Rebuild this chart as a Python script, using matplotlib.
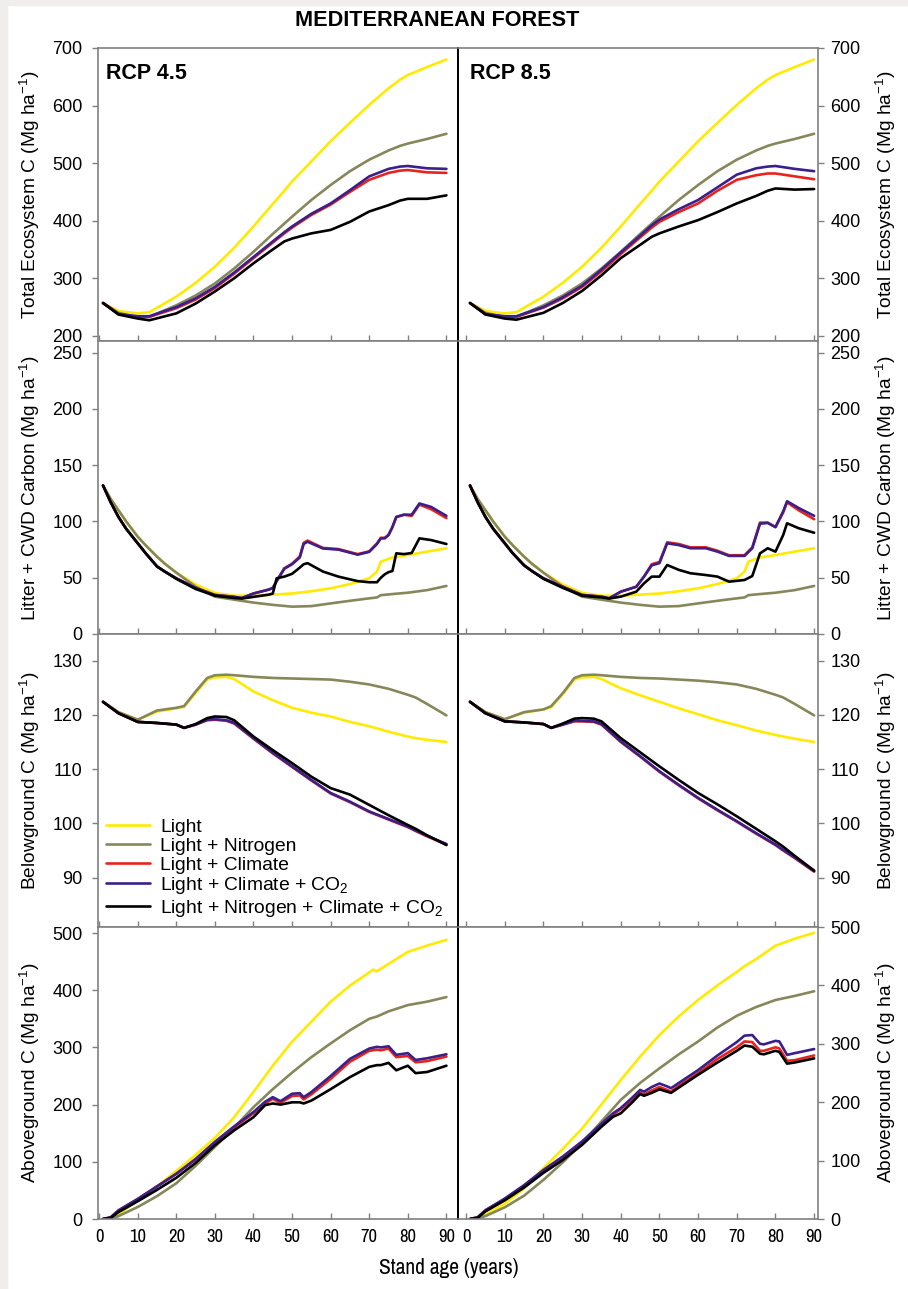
"""Mediterranean forest carbon pools under RCP 4.5 and RCP 8.5 (four stacked panels per scenario)."""

import matplotlib

matplotlib.use("Agg")
import matplotlib.pyplot as plt
from matplotlib import font_manager
from matplotlib.patches import Rectangle
from matplotlib.textpath import TextToPath

# Series order: Light, Light+N, Light+Climate, Light+Climate+CO2, all four.
LABELS = [
    "Light",
    "Light + Nitrogen",
    "Light + Climate",
    "Light + Climate + CO$_2$",
    "Light + Nitrogen + Climate + CO$_2$",
]
COLORS = ["#ffeb00", "#87875c", "#e8231d", "#3b1f8a", "#000000"]

# --- Total ecosystem C -------------------------------------------------------
AGE_TOTAL = [1, 5, 10, 13, 20, 25, 30, 35, 40, 45, 48, 50, 55, 60, 65, 70, 75, 78, 80, 85, 90]
TOTAL45_LIGHT = [257, 243, 239, 241, 268, 292, 320, 353, 390, 429, 452, 468, 503, 538, 570, 601, 630, 645, 653, 667, 680]
TOTAL45_NITRO = [257, 240, 232, 233, 253, 270, 291, 317, 346, 377, 395, 407, 436, 462, 486, 506, 522, 530, 534, 542, 551]
TOTAL45_CLIM = [257, 238, 233, 233, 248, 263, 283, 308, 335, 362, 378, 388, 410, 428, 450, 471, 483, 487, 488, 484, 483]
TOTAL45_CO2 = [257, 238, 234, 234, 250, 265, 285, 310, 337, 364, 380, 390, 412, 430, 453, 477, 490, 494, 495, 491, 490]
TOTAL45_ALL = [257, 237, 230, 227, 239, 256, 277, 300, 326, 350, 364, 369, 378, 384, 398, 416, 427, 435, 438, 438, 444]
TOTAL85_LIGHT = [257, 243, 239, 241, 268, 292, 320, 353, 390, 429, 452, 468, 503, 538, 570, 601, 630, 645, 653, 667, 680]
TOTAL85_NITRO = [257, 240, 232, 233, 253, 270, 291, 317, 346, 377, 395, 407, 436, 462, 486, 506, 522, 530, 534, 542, 551]
TOTAL85_CLIM = [257, 238, 233, 233, 249, 265, 285, 312, 342, 371, 388, 398, 415, 430, 452, 471, 479, 482, 482, 477, 472]
TOTAL85_CO2 = [257, 238, 234, 234, 250, 267, 287, 315, 345, 374, 392, 402, 420, 436, 458, 480, 491, 494, 495, 490, 486]
TOTAL85_ALL = [257, 237, 230, 228, 240, 257, 278, 305, 335, 358, 372, 378, 390, 401, 415, 430, 443, 452, 456, 454, 455]

# --- Litter + CWD C ----------------------------------------------------------
AGE_LITTER_SMOOTH = [1, 3, 5, 7, 10, 12, 15, 17, 20, 25, 30, 35, 40, 45, 50, 55, 60, 65, 70, 72, 73, 76, 80, 85, 90]
LITTER_LIGHT = [132, 120, 110, 100, 86.5, 79, 68.7, 62.5, 54.5, 44, 36.5, 34, 34, 35, 36, 38, 40.6, 44.4, 49.5,
                55.4, 64.3, 68, 70.2, 73.2, 76.2]
LITTER_NITRO = [132, 120, 110, 100, 86.5, 79, 68.7, 62.5, 54.5, 42, 33.2, 30.5, 27.9, 25.9, 24.3, 24.8, 27.2,
                29.5, 31.7, 32.5, 34.5, 35.5, 36.7, 39, 42.7]

AGE_LITTER45 = [1, 3, 5, 7, 10, 12, 15, 17, 20, 25, 30, 35, 37, 40, 44, 45, 46, 48, 50, 52, 53, 54, 58, 62, 67,
                70, 72, 73, 74, 75, 76, 77, 79, 81, 83, 86, 90]
LITTER45_CLIM = [132, 117, 104, 93.5, 80.6, 72, 60, 55.5, 49.5, 41, 34.7, 33, 32, 36, 39.5, 41, 47, 58.5, 62.5,
                 69, 81, 83, 76.5, 75.5, 71, 73.5, 80.5, 85.5, 85.5, 88, 95, 104, 106, 105, 115, 111, 103]
LITTER45_CO2 = [132, 117, 104, 93.5, 80.6, 72, 60, 55.5, 49.5, 41, 34.7, 33, 32, 36, 39.5, 41, 47, 58, 62, 68,
                80, 82, 76, 75, 70.5, 73, 80, 85, 85, 88, 95, 104, 106, 106, 116, 113, 105]
LITTER45_ALL = [132, 117, 104, 93.5, 80.6, 72, 60, 55.5, 49, 40, 34, 32, 31.5, 33, 35, 36, 49.5, 51, 53.5, 59,
                62, 63, 55.5, 51, 47, 46, 46, 50, 53, 55, 56, 71.7, 71, 72, 85, 83.5, 80]

AGE_LITTER85 = [1, 3, 5, 7, 10, 12, 15, 17, 20, 25, 30, 35, 37, 40, 44, 46, 48, 50, 52, 55, 58, 62, 65, 68,
                72, 74, 76, 78, 80, 82, 83, 86, 90]
LITTER85_CLIM = [132, 117, 104, 93.5, 80.6, 72, 61, 56, 49.5, 42, 34.7, 33.2, 31.7, 37.6, 42, 51, 62, 64, 81.5,
                 80, 77, 77, 74, 70, 70, 77, 99, 99, 95, 108, 117, 110, 102]
LITTER85_CO2 = [132, 117, 104, 93.5, 80.6, 72, 61, 56, 49.5, 42, 34.7, 33.2, 31.7, 37.6, 42, 51, 61, 63, 80.6,
                79, 76.2, 76.2, 73.2, 69.4, 69.4, 76.2, 98, 98.7, 95, 109, 118, 112, 105]
LITTER85_ALL = [132, 117, 104, 93.5, 80.6, 72, 61, 56, 49, 41, 34, 32.5, 31.5, 33.2, 37.6, 45, 51, 51, 61.3,
                57, 54, 52.4, 51, 46.5, 48, 51.5, 71.7, 76.2, 73.2, 88, 98.4, 94, 90]

# --- Belowground C -----------------------------------------------------------
AGE_BELOW = [1, 5, 10, 15, 20, 22, 25, 28, 30, 33, 35, 40, 45, 50, 55, 60, 65, 70, 75, 80, 82, 85, 90]
BELOW45_LIGHT = [122.4, 120.5, 119.1, 120.6, 121.2, 121.5, 124.0, 126.5, 126.9, 127.0, 126.6, 124.3, 122.7,
                 121.3, 120.4, 119.7, 118.7, 117.9, 116.9, 116.0, 115.7, 115.4, 115.0]
BELOW45_NITRO = [122.4, 120.5, 119.1, 120.8, 121.3, 121.6, 124.3, 126.8, 127.3, 127.4, 127.3, 127.0, 126.8,
                 126.7, 126.6, 126.5, 126.1, 125.6, 124.8, 123.7, 123.2, 122.0, 119.9]
BELOW45_CLIM = [122.4, 120.3, 118.7, 118.5, 118.2, 117.6, 118.2, 119.0, 119.1, 118.9, 118.4, 115.6, 112.9,
                110.4, 107.9, 105.5, 103.9, 102.1, 100.7, 99.3, 98.6, 97.6, 96.1]
BELOW45_CO2 = [122.4, 120.3, 118.7, 118.5, 118.2, 117.6, 118.2, 119.1, 119.2, 119.0, 118.5, 115.7, 113.0,
               110.5, 108.0, 105.6, 104.0, 102.2, 100.8, 99.4, 98.7, 97.7, 96.2]
BELOW45_ALL = [122.4, 120.3, 118.7, 118.5, 118.2, 117.6, 118.3, 119.4, 119.7, 119.6, 119.0, 116.0, 113.5,
               111.1, 108.6, 106.5, 105.3, 103.4, 101.5, 99.7, 99.0, 97.8, 96.0]
BELOW85_LIGHT = [122.4, 120.5, 119.2, 120.4, 121.0, 121.4, 123.8, 126.5, 126.9, 127.0, 126.6, 124.9, 123.6,
                 122.4, 121.2, 120.1, 119.0, 118.1, 117.1, 116.3, 116.0, 115.6, 115.0]
BELOW85_NITRO = [122.4, 120.5, 119.2, 120.5, 121.0, 121.6, 124.0, 126.8, 127.3, 127.4, 127.3, 127.0, 126.8,
                 126.7, 126.5, 126.3, 126.0, 125.6, 124.8, 123.7, 123.2, 122.0, 119.9]
BELOW85_CLIM = [122.4, 120.3, 118.8, 118.6, 118.3, 117.6, 118.2, 118.8, 118.8, 118.7, 118.2, 115.0, 112.3,
                109.5, 107.0, 104.6, 102.4, 100.3, 98.1, 96.0, 95.0, 93.6, 91.1]
BELOW85_CO2 = [122.4, 120.3, 118.8, 118.6, 118.3, 117.6, 118.2, 118.9, 118.9, 118.8, 118.3, 115.1, 112.4,
               109.6, 107.1, 104.7, 102.5, 100.4, 98.2, 96.1, 95.1, 93.7, 91.2]
BELOW85_ALL = [122.4, 120.3, 118.8, 118.6, 118.3, 117.6, 118.4, 119.3, 119.4, 119.3, 118.8, 115.7, 113.1,
               110.5, 108.0, 105.6, 103.5, 101.3, 99.0, 96.7, 95.7, 94.0, 91.3]

# --- Aboveground C -----------------------------------------------------------
AGE_ABOVE_SMOOTH = [1, 3, 5, 10, 15, 20, 25, 30, 35, 40, 45, 50, 55, 60, 65, 70, 71, 72, 75, 80, 85, 90]
ABOVE45_LIGHT = [0, 2, 8, 33, 57, 84, 112, 142, 178, 222, 268, 310, 345, 380, 408, 431, 436, 433, 446, 467, 478, 488]
ABOVE45_NITRO = [0, 1, 5, 21, 40, 62.5, 93, 126, 160, 195.5, 227, 256, 283, 307, 330, 350, 352, 354, 363, 374, 380, 388]
ABOVE85_LIGHT = [0, 2, 7, 26, 52, 87, 120, 155, 196, 238, 278, 315, 347, 375, 400, 423, 428, 433, 445, 468, 480, 490]
ABOVE85_NITRO = [0, 1, 5, 20, 40, 67, 97, 130, 167, 204, 233, 258, 282, 304, 328, 348, 351, 354, 363, 375, 382, 390]

AGE_ABOVE45 = [1, 3, 5, 10, 15, 20, 25, 30, 35, 40, 43, 45, 47, 50, 52, 53, 55, 60, 65, 70, 72, 73, 75, 77,
               80, 82, 85, 90]
ABOVE45_CLIM = [0, 3, 15, 35, 57, 79, 104, 133, 160, 185, 202, 210, 203, 215, 216, 209, 218, 245, 275, 294,
                296, 295, 298, 283, 285, 274, 276, 284]
ABOVE45_CO2 = [0, 3, 15, 35, 57, 79, 105, 135, 162, 187, 205, 213, 206, 219, 220, 213, 222, 250, 280, 298,
               301, 300, 302, 287, 290, 278, 281, 288]
ABOVE45_ALL = [0, 2, 12, 31, 51, 72, 98, 129, 155, 178, 199, 202, 200, 204, 204, 202, 207, 227, 248, 266,
               269, 269, 273, 260, 268, 255, 257, 268]

AGE_ABOVE85 = [1, 3, 5, 10, 15, 20, 25, 30, 35, 38, 40, 43, 45, 46, 48, 50, 52, 53, 55, 60, 65, 70, 72, 74,
               76, 77, 80, 81, 83, 85, 90]
ABOVE85_CLIM = [0, 3, 15, 34, 57, 83, 105, 131, 161, 179, 188, 205, 216, 213, 220, 226, 221, 218, 228, 250,
                274, 294, 304, 303, 288, 288, 294, 292, 271, 272, 280]
ABOVE85_CO2 = [0, 3, 15, 35, 58, 84, 107, 133, 163, 181, 190, 208, 221, 218, 226, 232, 227, 224, 233, 255,
               280, 303, 314, 315, 300, 299, 305, 304, 281, 284, 291]
ABOVE85_ALL = [0, 2, 13, 32, 54, 79, 101, 127, 158, 175, 181, 200, 214, 211, 216, 222, 218, 216, 225, 247,
               268, 288, 297, 295, 283, 282, 288, 286, 266, 268, 275]

YEAR_TICKS = [0, 10, 20, 30, 40, 50, 60, 70, 80, 90]
UNIT = " (Mg ha$^{-1}$)"
XLABEL = "Stand age (years)"

# Per row: y-axis label, y limits for (RCP 4.5, RCP 8.5), y ticks,
# and the (age, values) pairs for each scenario in LABELS order.
ROWS = [
    dict(ylabel="Total Ecosystem C" + UNIT, ylim=((191, 700), (191, 700)),
         yticks=[200, 300, 400, 500, 600, 700],
         rcp45=[(AGE_TOTAL, TOTAL45_LIGHT), (AGE_TOTAL, TOTAL45_NITRO), (AGE_TOTAL, TOTAL45_CLIM),
                (AGE_TOTAL, TOTAL45_CO2), (AGE_TOTAL, TOTAL45_ALL)],
         rcp85=[(AGE_TOTAL, TOTAL85_LIGHT), (AGE_TOTAL, TOTAL85_NITRO), (AGE_TOTAL, TOTAL85_CLIM),
                (AGE_TOTAL, TOTAL85_CO2), (AGE_TOTAL, TOTAL85_ALL)]),
    dict(ylabel="Litter + CWD Carbon" + UNIT, ylim=((0, 260.4), (0, 260.4)),
         yticks=[0, 50, 100, 150, 200, 250],
         rcp45=[(AGE_LITTER_SMOOTH, LITTER_LIGHT), (AGE_LITTER_SMOOTH, LITTER_NITRO),
                (AGE_LITTER45, LITTER45_CLIM), (AGE_LITTER45, LITTER45_CO2), (AGE_LITTER45, LITTER45_ALL)],
         rcp85=[(AGE_LITTER_SMOOTH, LITTER_LIGHT), (AGE_LITTER_SMOOTH, LITTER_NITRO),
                (AGE_LITTER85, LITTER85_CLIM), (AGE_LITTER85, LITTER85_CO2), (AGE_LITTER85, LITTER85_ALL)]),
    dict(ylabel="Belowground C" + UNIT, ylim=((80.9, 134.9), (80.9, 134.9)),
         yticks=[90, 100, 110, 120, 130],
         rcp45=[(AGE_BELOW, BELOW45_LIGHT), (AGE_BELOW, BELOW45_NITRO), (AGE_BELOW, BELOW45_CLIM),
                (AGE_BELOW, BELOW45_CO2), (AGE_BELOW, BELOW45_ALL)],
         rcp85=[(AGE_BELOW, BELOW85_LIGHT), (AGE_BELOW, BELOW85_NITRO), (AGE_BELOW, BELOW85_CLIM),
                (AGE_BELOW, BELOW85_CO2), (AGE_BELOW, BELOW85_ALL)]),
    dict(ylabel="Aboveground C" + UNIT, ylim=((0, 510.5), (0, 500)),
         yticks=[0, 100, 200, 300, 400, 500],
         rcp45=[(AGE_ABOVE_SMOOTH, ABOVE45_LIGHT), (AGE_ABOVE_SMOOTH, ABOVE45_NITRO),
                (AGE_ABOVE45, ABOVE45_CLIM), (AGE_ABOVE45, ABOVE45_CO2), (AGE_ABOVE45, ABOVE45_ALL)],
         rcp85=[(AGE_ABOVE_SMOOTH, ABOVE85_LIGHT), (AGE_ABOVE_SMOOTH, ABOVE85_NITRO),
                (AGE_ABOVE85, ABOVE85_CLIM), (AGE_ABOVE85, ABOVE85_CO2), (AGE_ABOVE85, ABOVE85_ALL)]),
]

FW, FH = 908, 1289
DPI = 100
COL_X = [98, 458]           # left edge of each column, px
COL_W = 360
ROW_TOP = [48, 341, 634, 927]  # top edge of each row, px
ROW_H = [293, 293, 293, 292]
XLIM = [(-0.3, 93.0), (-2.1, 91.0)]
FRAME = "#808080"
BACKDROP = "#efeeec"

_installed = {f.name for f in font_manager.fontManager.ttflist}
SANS = "Liberation Sans" if "Liberation Sans" in _installed else "DejaVu Sans"
_TTP = TextToPath()


def text_px(text, prop):
    """Rendered width of a plain string, in output pixels."""
    return _TTP.get_text_width_height_descent(text, prop, ismath=False)[0] * DPI / 72


def narrow_face():
    """Condensed sans closest to an Arial-Narrow width, or None."""
    regular = font_manager.FontProperties(family=SANS, size=13)
    ref_w = text_px("0123456789 age", regular)
    best, best_gap = None, None
    for f in font_manager.fontManager.ttflist:
        if not ("Narrow" in f.name or "Condensed" in f.name):
            continue
        if f.style != "normal" or f.weight not in (400, "normal", "regular"):
            continue
        cand = font_manager.FontProperties(fname=f.fname, size=13)
        try:
            ratio = text_px("0123456789 age", cand) / ref_w
        except Exception:
            continue
        if ratio < 0.92 and (best_gap is None or abs(ratio - 0.82) < best_gap):
            best, best_gap = f.fname, abs(ratio - 0.82)
    return best


def sized_to(fname, text, target_px):
    """FontProperties for ``fname`` scaled so ``text`` spans ``target_px``."""
    prop = font_manager.FontProperties(fname=fname, size=13)
    prop.set_size(13 * target_px / text_px(text, prop))
    return prop


_narrow = narrow_face()
if _narrow:
    TICK_FONT = sized_to(_narrow, "10", 17)
    XLABEL_FONT = sized_to(_narrow, XLABEL, 140)
else:
    TICK_FONT = font_manager.FontProperties(family=SANS, size=13)
    XLABEL_FONT = font_manager.FontProperties(family=SANS, size=13.5)

plt.rcParams.update({
    "font.family": SANS,
    "mathtext.fontset": "custom",
    "mathtext.rm": SANS,
    "mathtext.it": SANS + ":italic",
    "mathtext.bf": SANS + ":bold",
    "axes.unicode_minus": False,
})


def style_panel(ax, col, row, spec):
    """Spines, ticks and labels for one panel; col 0 = left, 1 = right."""
    ax.set_xlim(*XLIM[col])
    ax.set_ylim(*spec["ylim"][col])
    ax.set_xticks(YEAR_TICKS)
    ax.set_yticks(spec["yticks"])
    for spine in ax.spines.values():
        spine.set_color(FRAME)
        spine.set_linewidth(1.2)
    if col == 0:
        ax.spines["right"].set_color("black")
        ax.yaxis.tick_left()
    else:
        ax.spines["left"].set_color("black")
        ax.spines["left"].set_linewidth(1.4)
        ax.yaxis.tick_right()
        ax.yaxis.set_label_position("right")
    ax.tick_params(axis="x", direction="in", length=4, width=1, color=FRAME,
                   pad=7, labelbottom=(row == 3))
    ax.tick_params(axis="y", direction="out", length=4, width=1, color=FRAME,
                   labelsize=13, pad=5 if col == 1 else 7)
    for lbl in ax.get_xticklabels():
        lbl.set_fontproperties(TICK_FONT)
    ax.set_ylabel(spec["ylabel"], fontsize=13.8, rotation=90)
    ax.yaxis.set_label_coords(-0.189 if col == 0 else 1.189, 0.5)
    ax.yaxis.label.set_verticalalignment("center")


fig = plt.figure(figsize=(FW / DPI, FH / DPI), dpi=DPI)
fig.patch.set_facecolor("white")
fig.patches.append(Rectangle((0, 0), 7 / FW, 1, transform=fig.transFigure,
                             color=BACKDROP, zorder=-10))
fig.patches.append(Rectangle((0, 1 - 5 / FH), 1, 5 / FH, transform=fig.transFigure,
                             color=BACKDROP, zorder=-10))

for row, spec in enumerate(ROWS):
    for col, key in enumerate(["rcp45", "rcp85"]):
        rect = [COL_X[col] / FW, 1 - (ROW_TOP[row] + ROW_H[row]) / FH,
                COL_W / FW, ROW_H[row] / FH]
        ax = fig.add_axes(rect)
        lines = []
        for (age, vals), color, label in zip(spec[key], COLORS, LABELS):
            ln, = ax.plot(age, vals, color=color, lw=1.9, label=label,
                          solid_joinstyle="round", solid_capstyle="round")
            lines.append(ln)
        style_panel(ax, col, row, spec)
        if row == 0:
            ax.text(0.022 if col == 0 else 0.033, 0.95,
                    "RCP 4.5" if col == 0 else "RCP 8.5", transform=ax.transAxes,
                    ha="left", va="top", fontsize=15.5, fontweight="bold")
        if row == 2 and col == 0:
            ax.legend(lines, LABELS, loc="lower left", bbox_to_anchor=(0.022, 0.028),
                      frameon=False, fontsize=13.9, handlelength=2.28,
                      handletextpad=0.52, labelspacing=0.08, borderpad=0,
                      borderaxespad=0)

fig.text(437 / FW, 1 - 21 / FH, "MEDITERRANEAN FOREST", ha="center", va="center",
         fontsize=15.6, fontweight="bold")
fig.text(449 / FW, 1 - 1268 / FH, XLABEL, ha="center", va="center",
         fontproperties=XLABEL_FONT)

fig.savefig("out.png", dpi=DPI, facecolor=fig.get_facecolor())
